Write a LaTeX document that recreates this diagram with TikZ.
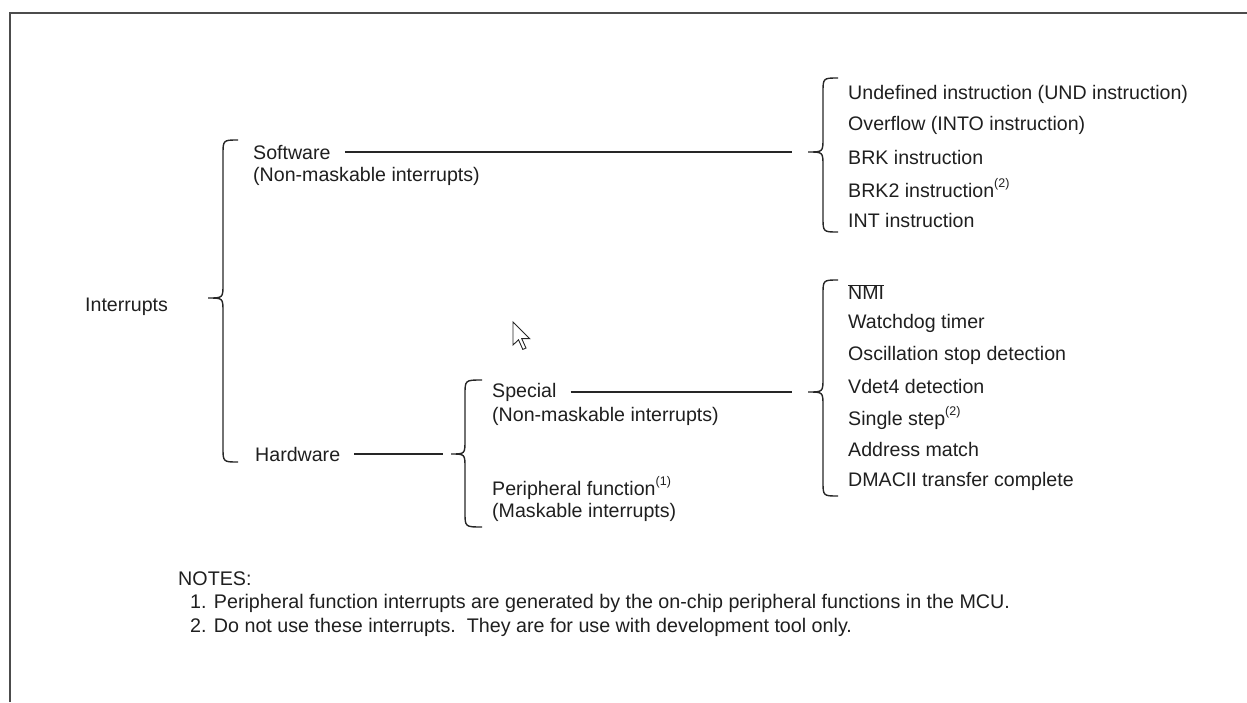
\documentclass[tikz,border=0pt]{standalone}
\usepackage{fontspec}
\setmainfont{Liberation Sans}
\newcommand{\supnote}[1]{\raisebox{0.5em}{\fontsize{12.5}{12.5}\selectfont(#1)}}
\newcommand{\bracedraw}[6]{% xtip, ytip, xstem, xend, ytop, ybot
  \draw[bracestyle] (#4,#5) .. controls (#3,#5) .. (#3,{#5+15}) -- (#3,{#2-14})
    .. controls (#3,#2) .. (#1,#2) .. controls (#3,#2) .. (#3,{#2+14})
    -- (#3,{#6-15}) .. controls (#3,#6) .. (#4,#6);}
\begin{document}
\begin{tikzpicture}[x=1pt,y=-1pt,
  lbl/.style={anchor=west,inner sep=0pt,font=\fontsize{19.6}{24}\selectfont,text=black!88},
  notetxt/.style={anchor=west,inner sep=0pt,font=\fontsize{19.7}{24}\selectfont,text=black!88},
  bracestyle/.style={line width=1.4pt,black!85},
  conn/.style={line width=1.4pt,black!85},
  frame/.style={line width=2pt,black!70},
  cursor/.style={draw=black!85,fill=white,line width=0.9pt,line join=miter}]
\useasboundingbox (0,0) rectangle (1247,702);
% frame (top and left edges)
\draw[frame] (10,702) -- (10,13) -- (1247,13);
% texts
\node[lbl] (intr) at (85,307) {Interrupts};
\node[lbl] (sw) at (253,152) {Software};
\node[lbl] (swsub) at (253,176) {(Non-maskable interrupts)};
\node[lbl] (hw) at (255,454) {Hardware};
\node[lbl] (sp) at (492,392) {Special};
\node[lbl] (spsub) at (492,416) {(Non-maskable interrupts)};
\node[lbl] (pf) at (492,488) {Peripheral function\supnote{1}};
\node[lbl] (pfsub) at (492,512) {(Maskable interrupts)};
% software list
\node[lbl] (s1) at (848,94) {Undefined instruction (UND instruction)};
\node[lbl] (s2) at (848,125) {Overflow (INTO instruction)};
\node[lbl] (s3) at (848,157) {BRK instruction};
\node[lbl] (s4) at (848,188) {BRK2 instruction\supnote{2}};
\node[lbl] (s5) at (848,220) {INT instruction};
% special list
\node[lbl] (h1) at (848,292) {$\overline{\hbox{NMI}}$};
\node[lbl] (h2) at (848,323) {Watchdog timer};
\node[lbl] (h3) at (848,355) {Oscillation stop detection};
\node[lbl] (h4) at (848,386) {Vdet4 detection};
\node[lbl] (h5) at (848,418) {Single step\supnote{2}};
\node[lbl] (h6) at (848,449) {Address match};
\node[lbl] (h7) at (848,481) {DMACII transfer complete};
% notes
\node[notetxt] (notes) at (178,579) {NOTES:};
\node[notetxt] (n1) at (190,603) {1. Peripheral function interrupts are generated by the on-chip peripheral functions in the MCU.};
\node[notetxt] (n2) at (190,627) {2. Do not use these interrupts.\ \ They are for use with development tool only.};
% brace tips
\coordinate (tipA) at (208,298);
\coordinate (tipB) at (808,152);
\coordinate (tipC) at (451,454);
\coordinate (tipD) at (808,392);
% braces
\bracedraw{208}{298}{223}{238}{140}{462}
\bracedraw{808}{152}{823}{838}{78}{232}
\bracedraw{451}{454}{465}{482}{380}{527}
\bracedraw{808}{392}{823}{838}{280}{496}
% connectors
\draw[conn] ([xshift=14pt]sw.east) -- ([xshift=-16pt]sw.east -| tipB);
\draw[conn] ([xshift=14pt]hw.east) -- ([xshift=-8pt]hw.east -| tipC);
\draw[conn] ([xshift=14pt]sp.east) -- ([xshift=-16pt]sp.east -| tipD);
% mouse cursor
\draw[cursor]
  (513,322) -- ++(0,23) -- ++(5.5,-5.2) -- ++(4.3,9.6) -- ++(3.2,-1.4) -- ++(-4.3,-9.4) -- ++(8,0) -- cycle;
\end{tikzpicture}
\end{document}
